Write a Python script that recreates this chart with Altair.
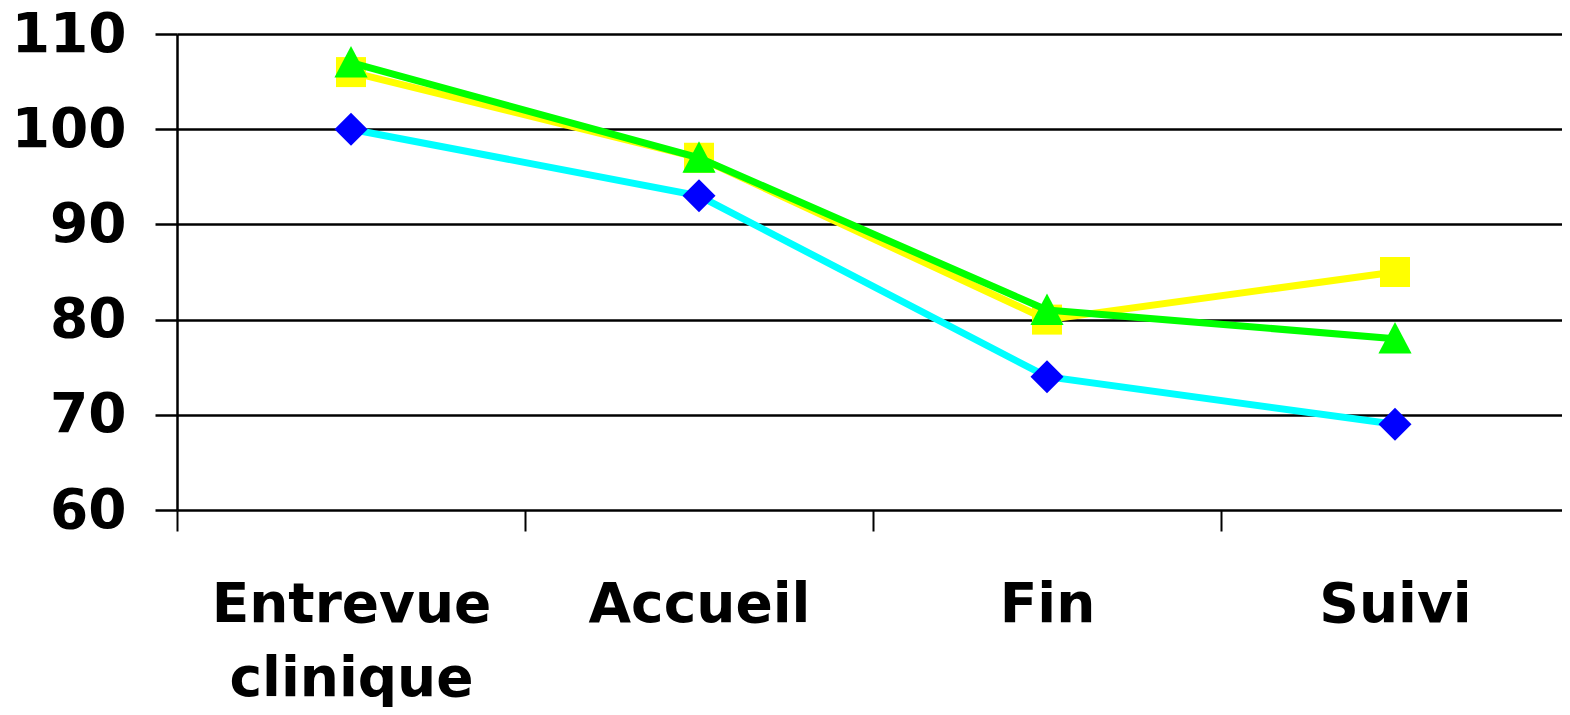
import altair as alt
import pandas as pd

categories = ["Entrevue clinique", "Accueil", "Fin", "Suivi"]
serie_cyan = [100, 93, 74, 69]
serie_jaune = [106, 97, 80, 85]
serie_verte = [107, 97, 81, 78]
series_names = ["S1", "S2", "S3"]

rows = []
for name, vals in zip(series_names, [serie_cyan, serie_jaune, serie_verte]):
    for c, v in zip(categories, vals):
        rows.append({"cat": c, "val": v, "serie": name})
df = pd.DataFrame(rows)

FONT = "DejaVu Sans"

x_enc = alt.X(
    "cat:N",
    sort=categories,
    scale=alt.Scale(paddingInner=0, paddingOuter=0, range=[0, 1392]),
    axis=alt.Axis(
        title=None,
        labelAngle=0,
        labelFont=FONT,
        labelFontSize=55,
        labelFontWeight="bold",
        labelColor="black",
        labelExpr="split(datum.label, ' ')",
        labelLineHeight=74,
        labelPadding=47,
        labelBaseline="top",
        labelLimit=0,
        labelOverlap=False,
        tickBand="extent",
        tickSize=21,
        tickWidth=2,
        tickColor="black",
        domain=False,
        grid=False,
    ),
)
y_enc = alt.Y(
    "val:Q",
    scale=alt.Scale(domain=[60, 110], nice=False, zero=False),
    axis=alt.Axis(
        title=None,
        values=[60, 70, 80, 90, 100, 110],
        labelFont=FONT,
        labelFontSize=55,
        labelFontWeight="bold",
        labelColor="black",
        labelPadding=29,
        labelLimit=0,
        tickSize=22,
        tickWidth=2.5,
        tickColor="black",
        domainColor="black",
        domainWidth=2.5,
        grid=True,
        gridColor="black",
        gridWidth=2.5,
        gridOpacity=1,
    ),
)

base = alt.Chart(df).encode(x=x_enc, y=y_enc)

styles = [
    ("S1", "#00FFFF", "#0000FF", "diamond", 1089),
    ("S2", "#FFFF00", "#FFFF00", "square", 900),
    ("S3", "#00FF00", "#00FF00", "M0,-1L1,0.9L-1,0.9Z", 1100),
]

layers = []
for name, lcol, mcol, shape, size in styles:
    f = base.transform_filter(alt.datum.serie == name)
    layers.append(f.mark_line(color=lcol, strokeWidth=7))
    layers.append(
        f.mark_point(shape=shape, size=size, filled=True, color=mcol, opacity=1, strokeWidth=0)
    )

chart = alt.layer(*layers).properties(
    width=1385,
    height=476,
    autosize=alt.AutoSizeParams(type="none"),
    padding={"left": 169, "top": 26, "right": 0, "bottom": 197},
).configure_view(stroke=None).configure(background="white")

chart.save("out.html", embed_options={"renderer": "svg", "actions": False})
